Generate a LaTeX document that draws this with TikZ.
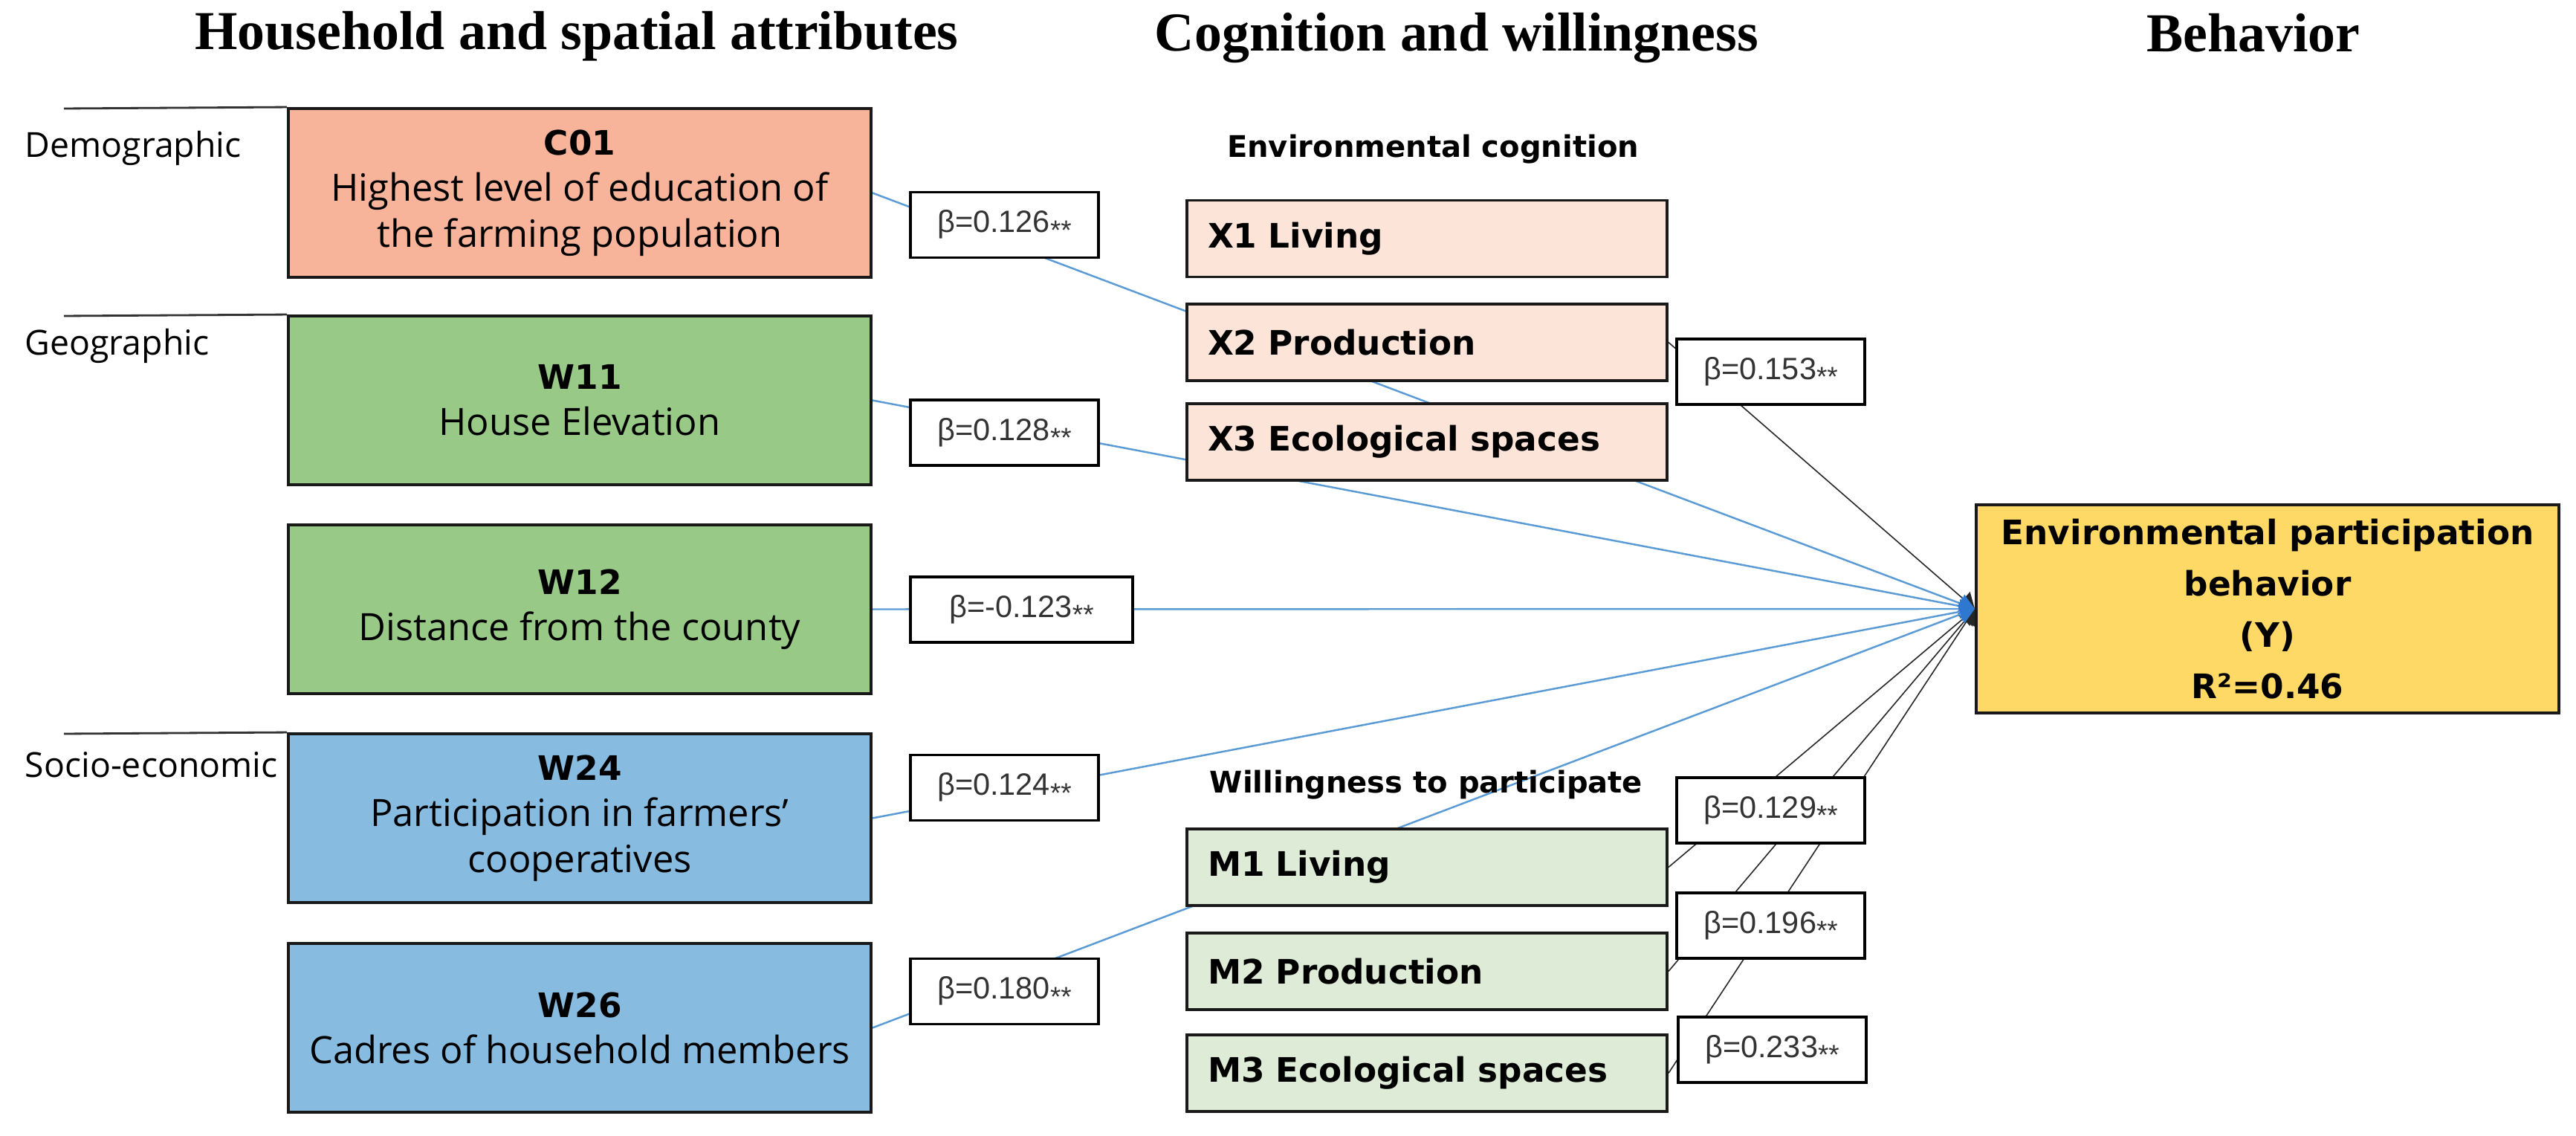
\documentclass[tikz,border=0pt]{standalone}
\usepackage{fontspec}
\usepackage{tikz}
\usetikzlibrary{arrows.meta,backgrounds}
\setmainfont{Open Sans}
\newfontfamily\grasfont{DejaVu Sans}
\newfontfamily\coeffont{Liberation Sans}
\newfontfamily\titrefont{Liberation Serif}

\definecolor{saumon}{HTML}{F7B49A}
\definecolor{vert}{HTML}{98C987}
\definecolor{bleu}{HTML}{88BBE0}
\definecolor{rose}{HTML}{FCE4D9}
\definecolor{vertpale}{HTML}{DEEBD6}
\definecolor{jaune}{HTML}{FFD966}
\definecolor{lignebleue}{HTML}{5B9BD5}
\definecolor{pointebleue}{HTML}{2E78CF}

\newcommand{\code}[1]{{\grasfont\bfseries\fontsize{12.9}{17.6}\selectfont #1}}
\newcommand{\coef}[1]{β=#1\raisebox{-0.22em}{\fontsize{10.5}{12}\selectfont **}}

\begin{document}
\begin{tikzpicture}[
    facteur/.style={draw=black!90, line width=1.1pt, minimum width=7.84cm, minimum height=2.27cm, align=center, font=\fontsize{14.4}{17.6}\selectfont},
    indicateur/.style={draw=black!90, line width=1.1pt, text width=5.9cm, inner xsep=0.28cm, minimum height=1.03cm, align=left, font=\grasfont\bfseries\fontsize{12.9}{15}\selectfont},
    coefbox/.style={draw, line width=1.1pt, fill=white, minimum height=0.88cm, minimum width=2.53cm, text=black!80, font=\coeffont\fontsize{11.8}{14}\selectfont},
    titre/.style={anchor=base, inner sep=0pt, font=\titrefont\bfseries\fontsize{21}{25}\selectfont},
    souscat/.style={anchor=base, inner sep=0pt, font=\grasfont\bfseries\fontsize{11.4}{14}\selectfont},
    groupe/.style={anchor=base west, inner sep=0pt, font=\fontsize{13.2}{15}\selectfont},
    lienbleu/.style={draw=lignebleue, line width=0.7pt, -{Triangle[length=0.2cm, width=0.26cm, color=pointebleue, fill=pointebleue]}},
    liennoir/.style={draw=black!85, line width=0.45pt, -{Triangle[length=0.2cm, width=0.26cm]}},
  ]
    \useasboundingbox (0,0) rectangle (34.66,-15.28);

    % Titres des colonnes
    \node[titre] (tfam) at (7.76,-0.67) {Household and spatial attributes};
    \node[titre] (tcog) at (19.60,-0.69) {Cognition and willingness};
    \node[titre] (tcomp) at (30.32,-0.70) {Behavior};

    % Facteurs (colonne de gauche)
    \node[facteur, fill=saumon] (C01) at (7.80,-2.595) {\code{C01}\\Highest level of education of\\the farming population};
    \node[facteur, fill=vert] (W11) at (7.80,-5.385) {\code{W11}\\House Elevation};
    \node[facteur, fill=vert] (W12) at (7.80,-8.195) {\code{W12}\\Distance from the county};
    \node[facteur, fill=bleu] (W24) at (7.80,-11.005) {\code{W24}\\Participation in farmers’\\cooperatives};
    \node[facteur, fill=bleu] (W26) at (7.80,-13.825) {\code{W26}\\Cadres of household members};

    % Groupes de facteurs
    \node[groupe] (demo) at (0.33,-2.12) {Demographic};
    \node[groupe] (geo) at (0.33,-4.78) {Geographic};
    \node[groupe] (socio) at (0.33,-10.46) {Socio-economic};
    \coordinate (ldemo) at (0.86,-1.46);
    \coordinate (lgeo) at (0.86,-4.25);
    \coordinate (lsocio) at (0.86,-9.87);
    \draw[black!80, line width=0.8pt] (ldemo) -- (C01.north west);
    \draw[black!80, line width=0.8pt] (lgeo) -- (W11.north west);
    \draw[black!80, line width=0.8pt] (lsocio) -- (W24.north west);

    % Cognition et volonte
    \node[souscat] (scog) at (19.28,-2.12) {Environmental cognition};
    \node[indicateur, fill=rose] (X1) at (19.20,-3.21) {X1 Living};
    \node[indicateur, fill=rose] (X2) at (19.20,-4.605) {X2 Production};
    \node[indicateur, fill=rose] (X3) at (19.20,-5.945) {X3 Ecological spaces};

    \node[souscat] (svol) at (19.19,-10.67) {Willingness to participate};
    \node[indicateur, fill=vertpale] (M1) at (19.20,-11.665) {M1 Living};
    \node[indicateur, fill=vertpale] (M2) at (19.20,-13.065) {M2 Production};
    \node[indicateur, fill=vertpale] (M3) at (19.20,-14.435) {M3 Ecological spaces};

    % Comportement
    \node[draw=black!90, line width=1.1pt, fill=jaune, minimum width=7.84cm, minimum height=2.8cm, align=center,
      font=\grasfont\bfseries\fontsize{12.9}{19.6}\selectfont] (Y) at (30.51,-8.19)
      {Environmental participation\\behavior\\(Y)\\R²=0.46};

    % Coefficients
    \node[coefbox] (b126) at (13.515,-3.025) {\coef{0.126}};
    \node[coefbox] (b128) at (13.515,-5.82) {\coef{0.128}};
    \node[coefbox, minimum width=2.99cm] (b123) at (13.745,-8.20) {\coef{-0.123}};
    \node[coefbox] (b124) at (13.515,-10.595) {\coef{0.124}};
    \node[coefbox] (b180) at (13.515,-13.335) {\coef{0.180}};
    \node[coefbox] (b153) at (23.825,-5.00) {\coef{0.153}};
    \node[coefbox] (b129) at (23.825,-10.90) {\coef{0.129}};
    \node[coefbox] (b196) at (23.825,-12.45) {\coef{0.196}};
    \node[coefbox] (b233) at (23.845,-14.12) {\coef{0.233}};

    % Liens vers Y (sous les boites)
    \begin{scope}[on background layer]
      \foreach \v in {X2,M1,M2,M3}
        \draw[liennoir] (\v.east) -- (Y.west);
      \foreach \f in {C01,W11,W12,W24,W26}
        \draw[lienbleu] (\f.east) -- (Y.west);
    \end{scope}
\end{tikzpicture}
\end{document}
